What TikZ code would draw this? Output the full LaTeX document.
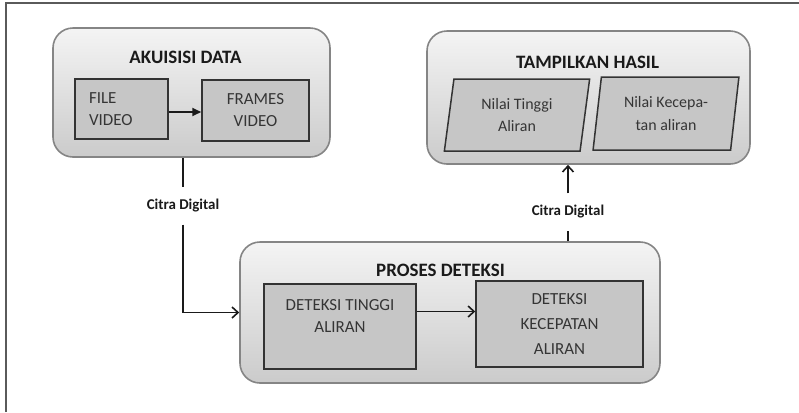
\documentclass[tikz,border=0pt]{standalone}
\usepackage{fontspec}
\setmainfont{Carlito}
\usetikzlibrary{arrows.meta,shapes.geometric}
\definecolor{framegray}{HTML}{5A5A5A}
\definecolor{panelline}{HTML}{858585}
\definecolor{paneltop}{HTML}{F4F4F4}
\definecolor{panelbottom}{HTML}{CBCBCB}
\definecolor{boxfill}{HTML}{C6C6C6}
\definecolor{boxline}{HTML}{333333}
\definecolor{boxtext}{HTML}{353535}
\definecolor{titletext}{HTML}{1A1A1A}

\tikzset{
  panel/.style={rounded corners=20bp, draw=panelline, line width=1.6bp,
    top color=paneltop, bottom color=panelbottom, inner sep=0pt},
  paneltitle/.style={font=\fontsize{19}{22}\selectfont\bfseries, text=titletext, inner sep=0pt},
  procbox/.style={draw=boxline, fill=boxfill, line width=1.5bp, text=boxtext,
    align=center, font=\fontsize{17}{22}\selectfont, inner sep=0pt},
  databox/.style={procbox, trapezium, trapezium left angle=81, trapezium right angle=99,
    trapezium stretches=true, font=\fontsize{16}{23}\selectfont},
  flowlabel/.style={font=\fontsize{15}{18}\selectfont\bfseries, text=titletext,
    inner xsep=2bp, inner ysep=12bp},
  flow/.style={line width=1.6bp, draw=titletext, -{Straight Barb[length=6bp,width=11bp]}},
}

\begin{document}
\begin{tikzpicture}[x=1bp, y=-1bp]
    % Frame
    \path[use as bounding box, fill=white] (0,0) rectangle (799,412);
    \draw[framegray, line width=1.6bp] (6,412) -- (6,3) -- (799,3);
    % Panels
    \node[panel, minimum width=277bp, minimum height=129bp] (akuisisi) at (191.5,92.5) {};
    \node[panel, minimum width=323bp, minimum height=133bp] (tampilkan) at (588.5,97.5) {};
    \node[panel, minimum width=420bp, minimum height=141bp] (proses) at (450,312.5) {};
    \node[paneltitle] (akuisisiT) at (185.5,57) {AKUISISI DATA};
    \node[paneltitle] (tampilkanT) at (587.5,62) {TAMPILKAN HASIL};
    \node[paneltitle] (prosesT) at (440.5,270) {PROSES DETEKSI};
    % Boxes
    \node[procbox, minimum width=93bp, minimum height=60bp, text width=65bp, align=left]
        (file) at (121.5,109) {FILE\\VIDEO};
    \node[procbox, minimum width=107bp, minimum height=61bp] (frames) at (255.5,110.5) {FRAMES\\VIDEO};
    \node[procbox, minimum width=152bp, minimum height=85bp] (tinggi) at (340,326.5)
        {DETEKSI TINGGI\\ALIRAN\\\mbox{}};
    \node[procbox, minimum width=167bp, minimum height=86bp] (kecepatan) at (559.5,324)
        {DETEKSI\\[3bp]KECEPATAN\\[3bp]ALIRAN};
    \node[databox, minimum width=146bp, minimum height=72bp] (nilaiT) at (517,115) {Nilai Tinggi\\Aliran};
    \node[databox, minimum width=146bp, minimum height=73bp] (nilaiK) at (666,113.5) {Nilai Kecepa-\\tan aliran};
    % Labels
    \node[flowlabel] (citraA) at (183,206) {Citra Digital};
    \node[flowlabel] (citraB) at (568,212) {Citra Digital};
    % Arrows
    \draw[line width=1.8bp, titletext, -{Triangle[length=9bp,width=8bp]}]
        ([yshift=-3bp]file.east) -- ([yshift=-3bp]file.east -| frames.west);
    \draw[flow, -] (akuisisi.south -| citraA) -- (citraA);
    \draw[flow] (citraA) |- (proses);
    \draw[flow, -] (proses.north -| citraB) -- (citraB);
    \draw[flow] (citraB) -- (tampilkan.south -| citraB);
    \draw[flow] ([yshift=15bp]tinggi.east) -- ([yshift=15bp]tinggi.east -| kecepatan.west);
\end{tikzpicture}
\end{document}
